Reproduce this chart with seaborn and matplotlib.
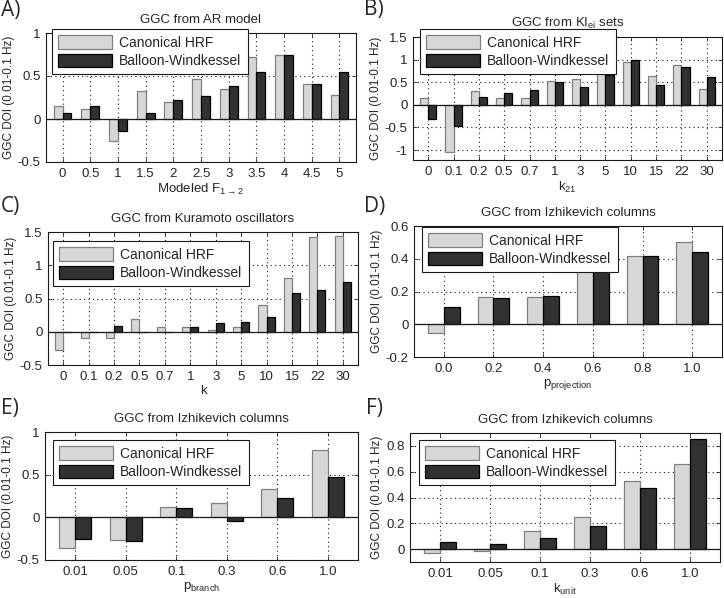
import matplotlib
matplotlib.use("Agg")
import matplotlib.pyplot as plt
from matplotlib.patches import Patch
from matplotlib.ticker import FuncFormatter
import seaborn as sns
import pandas as pd

# ---- data ----
a_x = ['0', '0.5', '1', '1.5', '2', '2.5', '3', '3.5', '4', '4.5', '5']
a_hrf = [0.155, 0.12, -0.26, 0.33, 0.20, 0.46, 0.35, 0.72, 0.74, 0.41, 0.28]
a_bw = [0.065, 0.15, -0.14, 0.07, 0.22, 0.27, 0.38, 0.55, 0.75, 0.41, 0.55]

b_x = ['0', '0.1', '0.2', '0.5', '0.7', '1', '3', '5', '10', '15', '22', '30']
b_hrf = [0.16, -1.04, 0.30, 0.14, 0.15, 0.52, 0.57, 1.47, 0.95, 0.64, 0.89, 0.35]
b_bw = [-0.31, -0.47, 0.18, 0.26, 0.32, 0.50, 0.39, 0.65, 1.00, 0.44, 0.83, 0.61]

c_x = ['0', '0.1', '0.2', '0.5', '0.7', '1', '3', '5', '10', '15', '22', '30']
c_hrf = [-0.28, -0.09, -0.09, 0.185, 0.065, 0.065, 0.02, 0.065, 0.40, 0.81, 1.42, 1.44]
c_bw = [-0.01, 0.0, 0.09, 0.0, 0.0, 0.075, 0.125, 0.145, 0.22, 0.59, 0.63, 0.75]

d_x = ['0.0', '0.2', '0.4', '0.6', '0.8', '1.0']
d_hrf = [-0.052, 0.164, 0.168, 0.41, 0.415, 0.504]
d_bw = [0.108, 0.162, 0.174, 0.41, 0.415, 0.442]

e_x = ['0.01', '0.05', '0.1', '0.3', '0.6', '1.0']
e_hrf = [-0.36, -0.265, 0.125, 0.17, 0.335, 0.786]
e_bw = [-0.257, -0.276, 0.105, -0.047, 0.23, 0.475]

f_x = ['0.01', '0.05', '0.1', '0.3', '0.6', '1.0']
f_hrf = [-0.034, -0.013, 0.138, 0.247, 0.527, 0.66]
f_bw = [0.052, 0.039, 0.088, 0.182, 0.475, 0.857]

series = ['Canonical HRF', 'Balloon-Windkessel']
light, dark = '#d7d7d7', '#313131'
light_edge, dark_edge = '#808080', '#000000'

sns.set_theme(style='white')
plt.rcParams['font.family'] = ['Liberation Sans', 'DejaVu Sans']
plt.rcParams['mathtext.default'] = 'regular'

W, H = 724, 598
fig = plt.figure(figsize=(W / 100, H / 100), dpi=100)


def px_axes(l, r, t, b):
    return fig.add_axes([l / W, 1 - b / H, (r - l) / W, (b - t) / H])


def panel(box, x, hrf, bw, ylim, yticks, title, xlabel, letter, letter_pos, leg_pos):
    ax = px_axes(*box)
    df = pd.DataFrame({
        'x': x + x,
        'v': hrf + bw,
        'model': [series[0]] * len(x) + [series[1]] * len(x),
    })
    sns.barplot(data=df, x='x', y='v', hue='model', order=x, hue_order=series,
                palette=[light, dark], width=0.64, errorbar=None, legend=False,
                linewidth=0.9, saturation=1, ax=ax)
    for cont, ec in zip(ax.containers, [light_edge, dark_edge]):
        for p in cont:
            p.set_edgecolor(ec)
            p.set_zorder(2)
    ax.axhline(0, color='k', lw=0.9, zorder=3)
    ax.set_ylim(*ylim)
    ax.set_xlim(-0.6, len(x) - 0.4)
    ax.set_yticks(yticks)
    ax.yaxis.set_major_formatter(FuncFormatter(lambda v, p: f'{v:g}'))
    ax.set_axisbelow(True)
    ax.grid(True, color='k', lw=0.8, linestyle=(0, (1, 3)))
    for s in ax.spines.values():
        s.set_visible(True)
        s.set_color('k')
        s.set_linewidth(0.8)
    ax.tick_params(direction='in', length=3, width=0.6, labelsize=9.5,
                   top=True, right=True, bottom=True, left=True, pad=4)
    ax.set_title(title, fontsize=9.5, pad=7)
    ax.set_xlabel(xlabel, fontsize=9.5, labelpad=2)
    ax.set_ylabel('GGC DOI (0.01-0.1 Hz)', fontsize=8.5, labelpad=2)
    handles = [Patch(facecolor=light, edgecolor=light_edge, lw=0.9),
               Patch(facecolor=dark, edgecolor=dark_edge, lw=0.9)]
    leg = ax.legend(handles, series, loc='upper left',
                    bbox_to_anchor=(leg_pos[0] / W, 1 - leg_pos[1] / H),
                    bbox_transform=fig.transFigure, borderaxespad=0,
                    fontsize=10, handlelength=3.9, handleheight=1.1,
                    handletextpad=0.5, labelspacing=0.3, borderpad=0.45,
                    fancybox=False, framealpha=1, edgecolor='k')
    leg.get_frame().set_linewidth(0.8)
    fig.text(letter_pos[0] / W, 1 - letter_pos[1] / H, letter,
             fontsize=15, family='Open Sans', va='top', ha='left')
    return ax


panel((46, 356, 33, 162), a_x, a_hrf, a_bw, (-0.5, 1), [-0.5, 0, 0.5, 1],
      'GGC from AR model', r'Modeled F$_{1\rightarrow2}$', 'A)', (1, 0), (52, 29))
panel((413, 722, 37, 160), b_x, b_hrf, b_bw, (-1.22, 1.5), [-1, -0.5, 0, 0.5, 1, 1.5],
      r'GGC from KI$_{ei}$ sets', r'k$_{21}$', 'B)', (364, -1), (420, 29))
panel((48, 358, 232, 365), c_x, c_hrf, c_bw, (-0.5, 1.5), [-0.5, 0, 0.5, 1, 1.5],
      'GGC from Kuramoto oscillators', 'k', 'C)', (1, 196), (53, 241))
panel((414, 722, 226, 357), d_x, d_hrf, d_bw, (-0.2, 0.6), [-0.2, 0, 0.2, 0.4, 0.6],
      'GGC from Izhikevich columns', r'p$_{projection}$', 'D)', (364, 196), (422, 227))
panel((45, 358, 432, 560), e_x, e_hrf, e_bw, (-0.5, 1), [-0.5, 0, 0.5, 1],
      'GGC from Izhikevich columns', r'p$_{branch}$', 'E)', (1, 398), (53, 440))
panel((410, 720, 433, 562), f_x, f_hrf, f_bw, (-0.1, 0.9), [0, 0.2, 0.4, 0.6, 0.8],
      'GGC from Izhikevich columns', r'k$_{unit}$', 'F)', (366, 398), (419, 440))

fig.savefig('out.png', dpi=100, facecolor='white')
